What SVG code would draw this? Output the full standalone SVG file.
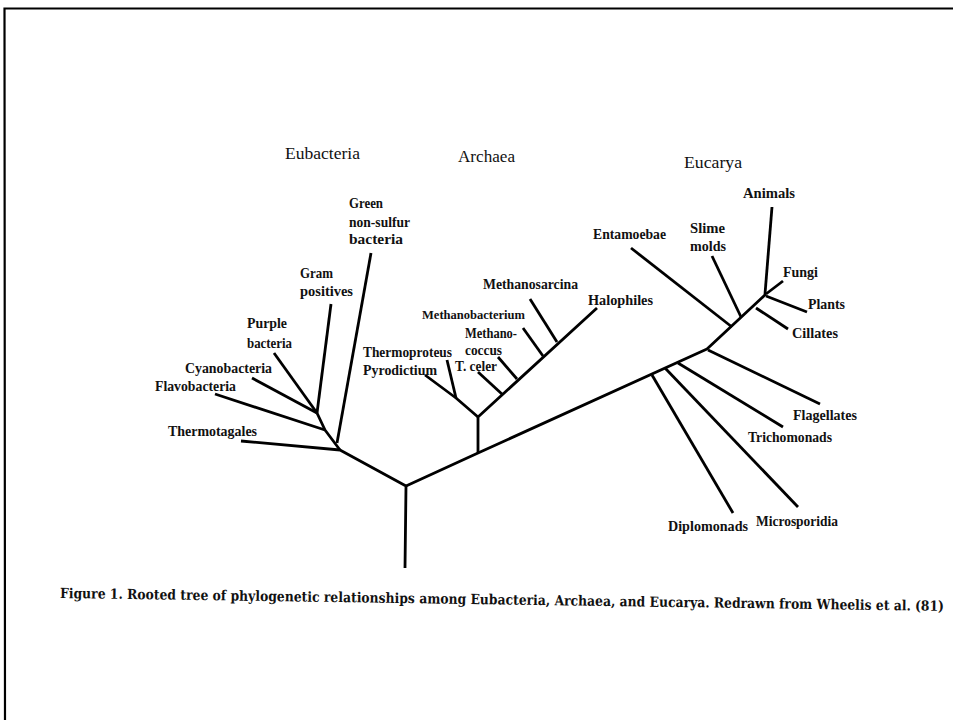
<svg xmlns="http://www.w3.org/2000/svg" width="953" height="720" viewBox="0 0 953 720">
<style>
.b{fill:none;stroke:#000;stroke-width:2.8;stroke-linecap:butt;stroke-linejoin:round}
.l{font-family:"Liberation Serif","Times New Roman",serif;font-size:14px;font-weight:bold;fill:#111}
.s{font-size:12px}
.h{font-family:"Liberation Serif","Times New Roman",serif;font-size:17px;fill:#111}
.c{font-family:"DejaVu Serif","Liberation Serif",serif;font-size:14px;font-weight:bold;fill:#111}
</style>
<rect width="953" height="720" fill="#fff"/>
<path d="M5,720 L4.5,8.5 L953,8.5" fill="none" stroke="#000" stroke-width="2.2"/>
<g id="connectors">
<path class="b" d="M405,568 L406,486 L340,450 L241,441"/>
<path class="b" d="M406,486 L478,453 L707,349 L766,294"/>
<path class="b" d="M340,450 L325,430 L317,413"/>
<path class="b" d="M337,443 L371,253"/>
<path class="b" d="M325,430 L215,394"/>
<path class="b" d="M317,413 L252,378"/>
<path class="b" d="M317,413 L274,353"/>
<path class="b" d="M317,413 L331,304"/>
<path class="b" d="M478,453 L478,417 L597,308"/>
<path class="b" d="M478,417 L456,398 L425,375"/>
<path class="b" d="M456,398 L447,360"/>
<path class="b" d="M503,395 L478,372"/>
<path class="b" d="M517,379 L498,357"/>
<path class="b" d="M543,356 L523,328"/>
<path class="b" d="M557,342 L530,299"/>
<path class="b" d="M732,327 L631,248"/>
<path class="b" d="M741,317 L712,256"/>
<path class="b" d="M765,294 L772,207"/>
<path class="b" d="M766,294 L783,281"/>
<path class="b" d="M766,296 L807,312"/>
<path class="b" d="M756,308 L788,329"/>
<path class="b" d="M708,350 L820,404"/>
<path class="b" d="M678,363 L783,427"/>
<path class="b" d="M665,368 L798,507"/>
<path class="b" d="M652,375 L733,513"/>
</g>
<g id="eubacteria-title"><text class="h" x="285" y="159" textLength="75" lengthAdjust="spacingAndGlyphs">Eubacteria</text></g>
<g id="archaea-title"><text class="h" x="458" y="162" textLength="57" lengthAdjust="spacingAndGlyphs">Archaea</text></g>
<g id="eucarya-title"><text class="h" x="684" y="168" textLength="58" lengthAdjust="spacingAndGlyphs">Eucarya</text></g>
<g id="green-non-sulfur">
<text class="l" x="349" y="208" textLength="34" lengthAdjust="spacingAndGlyphs">Green</text>
<text class="l" x="349" y="227" textLength="61" lengthAdjust="spacingAndGlyphs">non-sulfur</text>
<text class="l" x="349" y="244" textLength="54" lengthAdjust="spacingAndGlyphs">bacteria</text>
</g>
<g id="gram-positives">
<text class="l" x="300" y="278" textLength="33" lengthAdjust="spacingAndGlyphs">Gram</text>
<text class="l" x="300" y="296" textLength="53" lengthAdjust="spacingAndGlyphs">positives</text>
</g>
<g id="purple-bacteria">
<text class="l" x="247" y="328" textLength="40" lengthAdjust="spacingAndGlyphs">Purple</text>
<text class="l" x="247" y="348" textLength="45" lengthAdjust="spacingAndGlyphs">bacteria</text>
</g>
<g id="cyanobacteria"><text class="l" x="185" y="373" textLength="87" lengthAdjust="spacingAndGlyphs">Cyanobacteria</text></g>
<g id="flavobacteria"><text class="l" x="155" y="391" textLength="81" lengthAdjust="spacingAndGlyphs">Flavobacteria</text></g>
<g id="thermotagales"><text class="l" x="168" y="436" textLength="89" lengthAdjust="spacingAndGlyphs">Thermotagales</text></g>
<g id="thermoproteus"><text class="l" x="363" y="357" textLength="89" lengthAdjust="spacingAndGlyphs">Thermoproteus</text></g>
<g id="pyrodictium"><text class="l" x="363" y="375" textLength="74" lengthAdjust="spacingAndGlyphs">Pyrodictium</text></g>
<g id="t-celer"><text class="l" x="455" y="371" textLength="42" lengthAdjust="spacingAndGlyphs">T. celer</text></g>
<g id="methanococcus">
<text class="l" x="465" y="338" textLength="52" lengthAdjust="spacingAndGlyphs">Methano-</text>
<text class="l" x="465" y="355" textLength="37" lengthAdjust="spacingAndGlyphs">coccus</text>
</g>
<g id="methanobacterium"><text class="l s" x="422" y="319" textLength="103" lengthAdjust="spacingAndGlyphs">Methanobacterium</text></g>
<g id="methanosarcina"><text class="l" x="483" y="289" textLength="95" lengthAdjust="spacingAndGlyphs">Methanosarcina</text></g>
<g id="halophiles"><text class="l" x="588" y="305" textLength="65" lengthAdjust="spacingAndGlyphs">Halophiles</text></g>
<g id="entamoebae"><text class="l" x="593" y="239" textLength="73" lengthAdjust="spacingAndGlyphs">Entamoebae</text></g>
<g id="slime-molds">
<text class="l" x="690" y="233" textLength="35" lengthAdjust="spacingAndGlyphs">Slime</text>
<text class="l" x="690" y="251" textLength="36" lengthAdjust="spacingAndGlyphs">molds</text>
</g>
<g id="animals"><text class="l" x="743" y="198" textLength="52" lengthAdjust="spacingAndGlyphs">Animals</text></g>
<g id="fungi"><text class="l" x="783" y="277" textLength="35" lengthAdjust="spacingAndGlyphs">Fungi</text></g>
<g id="plants"><text class="l" x="808" y="309" textLength="37" lengthAdjust="spacingAndGlyphs">Plants</text></g>
<g id="cillates"><text class="l" x="792" y="338" textLength="46" lengthAdjust="spacingAndGlyphs">Cillates</text></g>
<g id="flagellates"><text class="l" x="793" y="420" textLength="64" lengthAdjust="spacingAndGlyphs">Flagellates</text></g>
<g id="trichomonads"><text class="l" x="748" y="442" textLength="84" lengthAdjust="spacingAndGlyphs">Trichomonads</text></g>
<g id="microsporidia"><text class="l" x="756" y="526" textLength="82" lengthAdjust="spacingAndGlyphs">Microsporidia</text></g>
<g id="diplomonads"><text class="l" x="668" y="531" textLength="80" lengthAdjust="spacingAndGlyphs">Diplomonads</text></g>
<g id="caption"><text class="c" x="60" y="598" transform="rotate(0.84 60 598)" textLength="884" lengthAdjust="spacingAndGlyphs">Figure 1. Rooted tree of phylogenetic relationships among Eubacteria, Archaea, and Eucarya. Redrawn from Wheelis et al. (81)</text></g>
</svg>
